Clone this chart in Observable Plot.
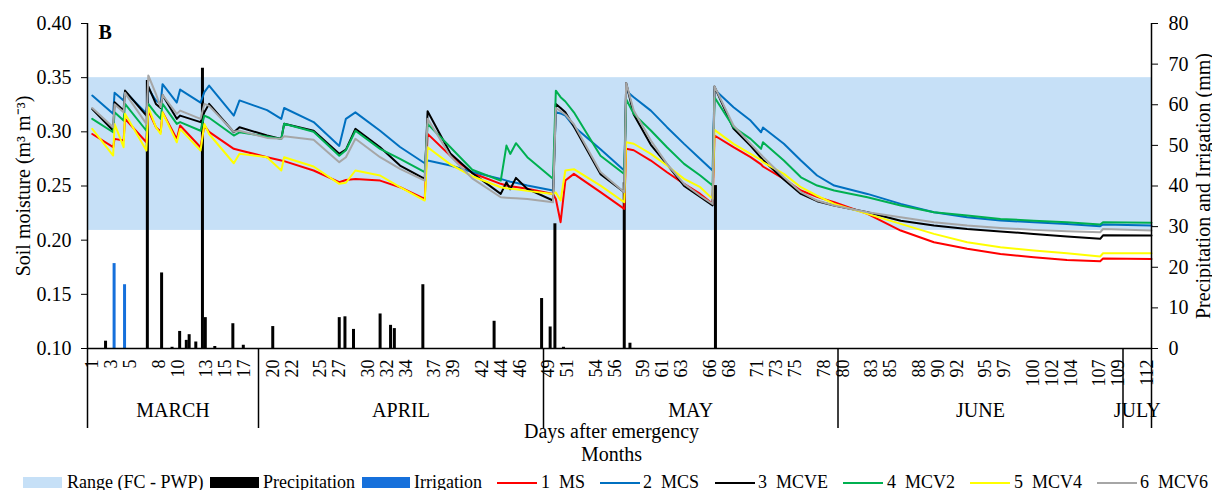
<!DOCTYPE html>
<html><head><meta charset="utf-8">
<script src="https://cdn.jsdelivr.net/npm/d3@7"></script>
<script src="https://cdn.jsdelivr.net/npm/@observablehq/plot@0.6"></script>
<style>
body{margin:0;background:#fff;overflow:hidden;font-family:"Liberation Serif","Times New Roman",serif;}
svg text{font-family:"Liberation Serif","Times New Roman",serif !important;}
#legend{position:relative;height:18px;font-size:18px;line-height:18px;white-space:pre;color:#000;}
#legend .sw{position:absolute;top:5px;height:11px;}
#legend .ln{position:absolute;top:10px;height:2px;}
#legend .tx{position:absolute;top:1px;}
</style></head><body>
<div id="chart"></div><div id="legend"></div>
<script>
// ---- data ----
const days = [1, 3.2, 3.35, 4.3, 4.45, 6.7, 6.9, 7.7, 8.2, 8.4, 9.9, 10.25, 12.4, 12.8, 13.3, 15.9, 16.5, 19.4, 20.9, 21.2, 24.3, 27.0, 27.7, 28.7, 31.3, 33.4, 36.0, 36.3, 38.7, 41.0, 44.0, 44.6, 45.0, 45.6, 46.8, 49.5, 49.8, 50.3, 50.8, 51.7, 54.5, 57.0, 57.2, 58.0, 59.8, 61.5, 63.3, 65.0, 66.3, 66.5, 68.5, 70.3, 71.4, 71.6, 73.8, 75.6, 77.3, 79.1, 82.6, 86.1, 89.6, 93.1, 96.6, 100.1, 103.6, 107.1, 107.4, 112.5];
const ms = [0.298, 0.2858, 0.2935, 0.292, 0.312, 0.2904, 0.3196, 0.3043, 0.300, 0.318, 0.2935, 0.3058, 0.2858, 0.3058, 0.300, 0.2843, 0.283, 0.2766, 0.2735, 0.273, 0.2643, 0.2535, 0.2555, 0.2565, 0.255, 0.2489, 0.2381, 0.2981, 0.278, 0.262, 0.252, 0.2505, 0.2498, 0.249, 0.2475, 0.2427, 0.238, 0.2166, 0.255, 0.2612, 0.2443, 0.2289, 0.2843, 0.283, 0.2735, 0.2627, 0.252, 0.2427, 0.2335, 0.2966, 0.2858, 0.2766, 0.270, 0.268, 0.2566, 0.2458, 0.240, 0.235, 0.2243, 0.2089, 0.1981, 0.192, 0.1873, 0.1843, 0.1818, 0.1806, 0.183, 0.1827];
const mcs = [0.3335, 0.3166, 0.336, 0.329, 0.337, 0.317, 0.340, 0.329, 0.326, 0.344, 0.327, 0.339, 0.327, 0.3366, 0.3427, 0.315, 0.329, 0.320, 0.312, 0.322, 0.309, 0.287, 0.312, 0.318, 0.301, 0.286, 0.271, 0.2735, 0.269, 0.263, 0.2566, 0.255, 0.254, 0.253, 0.2504, 0.2458, 0.318, 0.317, 0.315, 0.305, 0.284, 0.2643, 0.338, 0.332, 0.3196, 0.3043, 0.2889, 0.275, 0.2643, 0.339, 0.3227, 0.3104, 0.2996, 0.304, 0.289, 0.2735, 0.2597, 0.2504, 0.2427, 0.2335, 0.2258, 0.2212, 0.2181, 0.2166, 0.215, 0.2129, 0.2145, 0.2135];
const mcve = [0.321, 0.3012, 0.3273, 0.3196, 0.3381, 0.315, 0.342, 0.3258, 0.322, 0.334, 0.312, 0.315, 0.309, 0.318, 0.3258, 0.2996, 0.3043, 0.2966, 0.2935, 0.3075, 0.301, 0.2797, 0.2835, 0.3028, 0.2858, 0.2689, 0.2566, 0.319, 0.280, 0.262, 0.2427, 0.2535, 0.247, 0.2575, 0.2473, 0.2366, 0.3258, 0.322, 0.318, 0.305, 0.261, 0.2443, 0.345, 0.316, 0.288, 0.270, 0.250, 0.240, 0.232, 0.3418, 0.303, 0.287, 0.276, 0.274, 0.256, 0.2427, 0.236, 0.232, 0.2258, 0.218, 0.2135, 0.2104, 0.208, 0.2058, 0.2033, 0.2012, 0.2045, 0.2043];
const mcv2 = [0.312, 0.2996, 0.318, 0.3104, 0.3258, 0.301, 0.3258, 0.3166, 0.312, 0.3258, 0.3073, 0.309, 0.301, 0.315, 0.313, 0.2966, 0.2996, 0.2956, 0.2935, 0.3075, 0.300, 0.278, 0.283, 0.301, 0.2843, 0.275, 0.2627, 0.3073, 0.2858, 0.265, 0.255, 0.2873, 0.2796, 0.2895, 0.2766, 0.2566, 0.338, 0.332, 0.328, 0.318, 0.278, 0.261, 0.330, 0.3166, 0.3012, 0.2858, 0.2704, 0.2597, 0.2504, 0.332, 0.3043, 0.2935, 0.2843, 0.2904, 0.2735, 0.258, 0.2504, 0.2458, 0.2396, 0.232, 0.2258, 0.2227, 0.2196, 0.218, 0.2166, 0.2144, 0.2166, 0.216];
const mcv4 = [0.3027, 0.2781, 0.3073, 0.2858, 0.3166, 0.2827, 0.3227, 0.3043, 0.298, 0.318, 0.2904, 0.3027, 0.2827, 0.3073, 0.298, 0.271, 0.2797, 0.2766, 0.2643, 0.2766, 0.268, 0.252, 0.253, 0.2643, 0.2597, 0.2489, 0.2366, 0.2858, 0.270, 0.259, 0.2489, 0.248, 0.2475, 0.247, 0.2455, 0.2427, 0.244, 0.2366, 0.2643, 0.2655, 0.2504, 0.235, 0.2904, 0.289, 0.2796, 0.2689, 0.2566, 0.2489, 0.2381, 0.3018, 0.2889, 0.2796, 0.274, 0.272, 0.2612, 0.2489, 0.241, 0.2335, 0.2243, 0.215, 0.2058, 0.1981, 0.1935, 0.1904, 0.1879, 0.1849, 0.1879, 0.1879];
const mcv6 = [0.322, 0.3043, 0.3255, 0.318, 0.336, 0.3073, 0.352, 0.335, 0.3227, 0.334, 0.3166, 0.3196, 0.312, 0.3258, 0.324, 0.300, 0.301, 0.2944, 0.2935, 0.296, 0.2926, 0.272, 0.2765, 0.2936, 0.2766, 0.2658, 0.255, 0.312, 0.2775, 0.257, 0.2396, 0.2392, 0.239, 0.2388, 0.2381, 0.235, 0.322, 0.319, 0.316, 0.307, 0.263, 0.2443, 0.345, 0.3196, 0.292, 0.2704, 0.252, 0.241, 0.2335, 0.342, 0.3058, 0.2889, 0.279, 0.277, 0.258, 0.2443, 0.2366, 0.232, 0.2258, 0.2212, 0.2166, 0.2135, 0.2113, 0.2095, 0.2083, 0.2073, 0.2103, 0.2089];

const precipDay = [2.4, 6.8, 8.3, 9.4, 10.2, 10.9, 11.2, 11.9, 12.6, 12.9, 13.9, 15.8, 16.9, 20.0, 27.0, 27.6, 28.5, 31.3, 32.4, 32.8, 35.8, 43.3, 48.3, 49.2, 49.7, 50.6, 57.0, 57.6, 66.6];
const precipMm  = [1.8, 66, 18.6, 0.3, 4.2, 2.0, 3.4, 1.6, 69, 7.6, 0.5, 6.1, 0.8, 5.4, 7.6, 7.8, 4.7, 8.5, 5.7, 4.9, 15.7, 6.7, 12.3, 5.3, 30.7, 0.3, 40.8, 1.3, 40.1];
const irrDay = [3.3, 4.4];
const irrMm  = [20.9, 15.7];

const fieldCapacity = 0.35;
const wiltingPoint = 0.209;

const xTicks = [1,3,5,8,10,13,15,17,20,22,25,27,30,32,34,37,39,42,44,46,49,51,54,56,59,61,63,66,68,71,73,75,78,80,83,85,88,90,92,95,97,100,102,104,107,109,112];
const yTicks = [0.10, 0.15, 0.20, 0.25, 0.30, 0.35, 0.40];
const mmTicks = [0, 10, 20, 30, 40, 50, 60, 70, 80];
const months = ["MARCH", "APRIL", "MAY", "JUNE", "JULY"];
const monthLengths = [18, 30, 31, 30, 3];

const seriesNames = ["1  MS", "2  MCS", "3  MCVE", "4  MCV2", "5  MCV4", "6  MCV6"];
const seriesValues = [ms, mcs, mcve, mcv2, mcv4, mcv6];
const seriesColors = ["#ff0000", "#0070c0", "#000000", "#00b050", "#ffff00", "#a6a6a6"];
const bandColor = "#c6e0f7";
const precipColor = "#000000";
const irrColor = "#1670db";

// ---- derived ----
const FONT = '"Liberation Serif","Times New Roman",serif';
const xDomain = [0.5, 0.5 + d3.sum(monthLengths)];
const yDomain = [0.10, 0.40];
const mmMax = 80;
const toY = mm => yDomain[0] + mm * (yDomain[1] - yDomain[0]) / mmMax;
const fromY = v => (v - yDomain[0]) * mmMax / (yDomain[1] - yDomain[0]);

const bounds = [xDomain[0]];
monthLengths.forEach(n => bounds.push(bounds[bounds.length - 1] + n));
const monthData = months.map((m, i) => ({name: m, mid: (bounds[i] + bounds[i + 1]) / 2}));

const precip = precipDay.map((d, i) => ({day: d, mm: precipMm[i]}));
const irr = irrDay.map((d, i) => ({day: d, mm: irrMm[i]}));

const W = 1212, H = 472, mT = 23, mB = 124, mL = 87, mR = 61;
const frameH = H - mT - mB;

const lineMarks = seriesValues.map((vals, s) =>
  Plot.line(days.map((d, i) => ({day: d, v: vals[i]})), {x: "day", y: "v", stroke: seriesColors[s], strokeWidth: 2})
);

const chart = Plot.plot({
  width: W, height: H,
  marginTop: mT, marginBottom: mB, marginLeft: mL, marginRight: mR,
  style: {fontFamily: FONT, fontSize: "20px", color: "#000", background: "#fff", overflow: "visible"},
  x: {domain: xDomain},
  y: {domain: yDomain},
  marks: [
    Plot.rect([{y1: wiltingPoint, y2: fieldCapacity}], {x1: xDomain[0], x2: xDomain[1], y1: "y1", y2: "y2", fill: bandColor}),
    Plot.ruleX(precip, {x: "day", y1: yDomain[0], y2: d => toY(d.mm), stroke: precipColor, strokeWidth: 3}),
    Plot.ruleX(irr, {x: "day", y1: yDomain[0], y2: d => toY(d.mm), stroke: irrColor, strokeWidth: 3}),
    ...lineMarks,
    Plot.ruleY([yDomain[0]], {stroke: "#000", strokeWidth: 1.5}),
    Plot.ruleX(xDomain, {stroke: "#000", strokeWidth: 1.5, insetBottom: -80}),
    Plot.ruleX(bounds.slice(1, -1), {stroke: "#000", strokeWidth: 1.5, insetTop: frameH, insetBottom: -80}),
    Plot.axisY({ticks: yTicks, tickFormat: d3.format(".2f"), tickSize: 6, tickPadding: 10, fontSize: 20, fontFamily: FONT, label: null}),
    Plot.axisY({anchor: "right", ticks: mmTicks.map(toY), tickFormat: v => String(Math.round(fromY(v))), tickSize: 6, tickPadding: 11, fontSize: 20, fontFamily: FONT, label: null}),
    Plot.axisX({ticks: xTicks, tickFormat: d => String(d), tickRotate: -90, tickSize: 0, tickPadding: 11, fontSize: 18, fontFamily: FONT, label: null}),
    Plot.text(monthData, {x: "mid", text: "name", frameAnchor: "bottom", dy: 68, fontSize: 20, fontFamily: FONT}),
    Plot.text(["Days after emergency"], {frameAnchor: "bottom", dx: -8, dy: 89, fontSize: 20, fontFamily: FONT}),
    Plot.text(["Months"], {frameAnchor: "bottom", dx: -8, dy: 112, fontSize: 20, fontFamily: FONT}),
    Plot.text(["Soil moisture (m³ m⁻³)"], {frameAnchor: "left", rotate: -90, textAnchor: "middle", dx: -64, fontSize: 20, fontFamily: FONT}),
    Plot.text(["Precipitation and Irrigation (mm)"], {frameAnchor: "right", rotate: -90, textAnchor: "middle", dx: 52, fontSize: 20, fontFamily: FONT}),
    Plot.text(["B"], {frameAnchor: "top-left", dx: 11, dy: 1, textAnchor: "start", lineAnchor: "top", fontWeight: "bold", fontSize: 20, fontFamily: FONT})
  ]
});
document.getElementById("chart").appendChild(chart);

// ---- legend ----
const legend = document.getElementById("legend");
const legendItems = [
  {kind: "sw", color: bandColor, x: 23, w: 39, label: "Range (FC - PWP)", tx: 67},
  {kind: "sw", color: precipColor, x: 210, w: 49, label: "Precipitation", tx: 263},
  {kind: "sw", color: irrColor, x: 362, w: 48, label: "Irrigation", tx: 414},
  ...seriesNames.map((n, i) => ({kind: "ln", color: seriesColors[i], x: [497, 600, 715, 843, 970, 1097][i], w: 40, label: n, tx: [541, 643, 758, 887, 1014, 1140][i]}))
];
legendItems.forEach(it => {
  const s = document.createElement("div");
  s.className = it.kind;
  s.style.left = it.x + "px"; s.style.width = it.w + "px"; s.style.background = it.color;
  legend.appendChild(s);
  const t = document.createElement("div");
  t.className = "tx"; t.style.left = it.tx + "px"; t.textContent = it.label;
  legend.appendChild(t);
});
</script>
</body></html>
